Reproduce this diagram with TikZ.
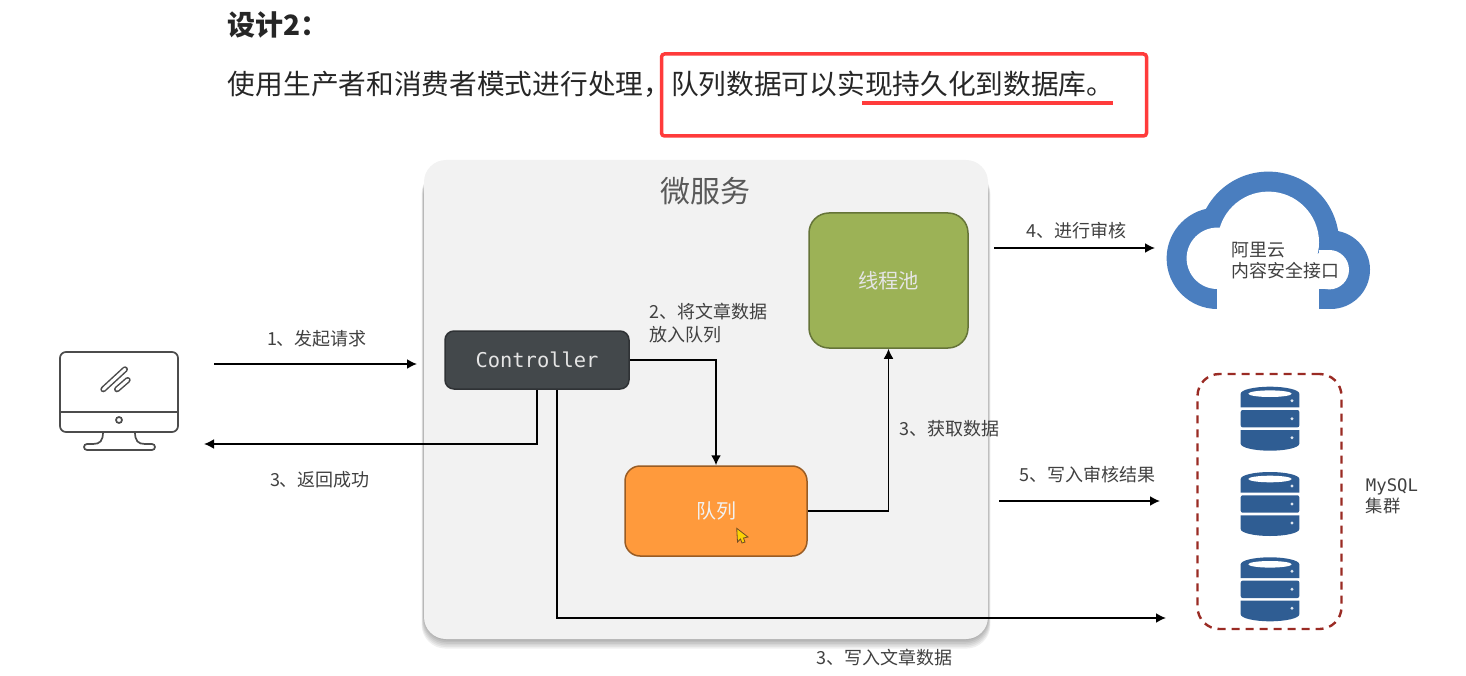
\documentclass[tikz,border=0pt]{standalone}
\usepackage{fontspec}
\setmainfont{Noto Sans CJK SC}
\setmonofont{DejaVu Sans Mono}
\usepackage{tikz}
\usetikzlibrary{arrows.meta, positioning, calc}

\definecolor{cBlue}{HTML}{4A7EBF}
\definecolor{cDb}{HTML}{2F5D93}
\definecolor{cRed}{HTML}{FF3B3B}
\definecolor{cTxt}{HTML}{404040}
\definecolor{cCtrl}{HTML}{43484B}
\definecolor{cPool}{HTML}{9CB256}
\definecolor{cQue}{HTML}{FF9A3C}
\definecolor{cDash}{HTML}{9A2B24}

\tikzset{
  dbstack/.pic = {
    \fill[cDb] (-29.3,20.7) -- (-29.3,7) arc[start angle=180, end angle=0, x radius=29.3pt, y radius=7pt] -- (29.3,20.7) -- cycle;
    \fill[cDb, rounded corners=2pt] (-29.3,23.3) rectangle (29.3,40.7);
    \fill[cDb] (-29.3,43.3) -- (-29.3,57) arc[start angle=180, end angle=360, x radius=29.3pt, y radius=7pt] -- (29.3,43.3) -- cycle;
    \fill[white] (0,7) ellipse[x radius=21.7pt, y radius=3.3pt];
    \fill[white!85!cDb] (22,14) circle (1.6pt) (22,32) circle (1.6pt) (22,51) circle (1.6pt);
  }
}

\begin{document}
\begin{tikzpicture}[
  x=1pt, y=-1pt,
  >={Latex[length=10pt, width=10pt]},
  line width=1.8pt,
  block/.style = {rectangle, rounded corners=#1, inner sep=0pt, line width=1.5pt},
  lbl/.style   = {inner sep=0pt, text=cTxt, font=\fontsize{18}{23}\selectfont, align=left},
]
  \useasboundingbox (0,0) rectangle (1466,676);

  % heading
  \node[anchor=west, inner sep=0pt, text=black!85, font=\fontsize{28}{34}\selectfont\bfseries] (hTitle) at (227,25) {设计2\symbol{"FF1A}};
  \node[anchor=west, inner sep=0pt, text=black!85, font=\fontsize{27.7}{34}\selectfont] (hSub) at (227,84) {使用生产者和消费者模式进行处理\symbol{"FF0C}队列数据可以实现持久化到数据库。};
  \node[draw=cRed, line width=3.5pt, rounded corners=3pt, minimum width=485pt, minimum height=82pt, inner sep=0pt] (hBox) at (904,95) {};
  \coordinate (uA) at (862,103);
  \coordinate (uB) at (1113,103);
  \draw[cRed, line width=3.5pt] (uA) -- (uB);

  % service panel, soft shadow first
  \foreach \i in {1,...,6}
    \fill[black, opacity=.06, rounded corners=24pt] (424-\i*.4,170) rectangle (988+\i*.4,639+\i*1.6);
  \node[block=22pt, fill=black!5, minimum width=564pt, minimum height=479pt] (bSvc) at (706,399.5) {};
  \node[inner sep=0pt, text=black!65, font=\fontsize{30}{36}\selectfont] (tSvc) at (705,191) {微服务};

  \node[block=9pt, draw=cCtrl!70!black, fill=cCtrl, minimum width=184pt, minimum height=58pt, text=white!90!black, font=\ttfamily\fontsize{20.4}{24}\selectfont] (bCtrl) at (537,360) {\raisebox{-2pt}{Controller}};
  \node[block=20pt, draw=cPool!65!black, fill=cPool, minimum width=159pt, minimum height=135pt, text=white!90!black, font=\fontsize{20.3}{24}\selectfont] (bPool) at (888.5,280.5) {线程池};
  \node[block=15pt, draw=cQue!60!black, fill=cQue, minimum width=182pt, minimum height=90pt, text=white!95!black, font=\fontsize{20}{24}\selectfont] (bQue) at (716,511) {队列};

  % mouse pointer
  \fill[yellow!70!orange, draw=brown!60!black, line width=.8pt] (736.7,528.3) -- (748,537) -- (743.5,538) -- (745,542) -- (742,543) -- (740.5,539) -- (737.5,542) -- cycle;

  % free ends of the connectors
  \coordinate (pc)  at (214,364);
  \coordinate (pca) at (417,364);
  \coordinate (prt) at (204,444);
  \coordinate (pAi) at (994,248);
  \coordinate (pAj) at (1155,248);
  \coordinate (pRa) at (999,501);
  \coordinate (pRb) at (1160,501);
  \coordinate (pWr) at (1166,618);
  \coordinate (pQt) at (bQue.north);
  \coordinate (pPl) at (bPool.south);

  \draw[->] (pc) -- (pca);
  \draw[->] (bCtrl.south) |- (prt);
  \draw[->] (bCtrl.east) -| (pQt);
  \draw[->] (bQue.east) -| (pPl);
  \draw[->] (pAi) -- (pAj);
  \draw[->] (pRa) -- (pRb);
  \draw[->] ($(bCtrl.south)+(20,0)$) |- (pWr);

  \node[lbl] (l1)  at (317,339) {1、发起请求};
  \node[lbl] (l3a) at (320,480) {3、返回成功};
  \node[lbl, anchor=north west] (l2)  at (649,302) {2、将文章数据\\放入队列};
  \node[lbl] (l3b) at (949,429) {3、获取数据};
  \node[lbl] (l4)  at (1076,231) {4、进行审核};
  \node[lbl] (l5)  at (1087,475) {5、写入审核结果};
  \node[lbl] (l3c) at (884,658) {3、写入文章数据};

  % cloud
  \fill[cBlue] (1217.3,258.3) circle (50.7pt);
  \fill[cBlue] (1268.3,242.3) circle (70.7pt);
  \fill[cBlue] (1330.7,269.7) circle (39.3pt);
  \fill[cBlue] (1319,270) rectangle (1331,309);
  \fill[white] (1217.3,258.3) circle (30.7pt);
  \fill[white] (1268.3,242.3) circle (50.7pt);
  \fill[white] (1329.3,269.7) circle (19.7pt);
  \fill[white] (1319,250) rectangle (1329.3,289.3);
  \fill[white] (1217.3,260) rectangle (1319,316);
  \node[lbl, anchor=north west, font=\fontsize{17.9}{21}\selectfont] (tCloud) at (1231,241) {阿里云\\内容安全接口};

  % computer
  \begin{scope}[draw=black!70, line width=1.7pt]
    \draw[rounded corners=6pt] (60,352) rectangle (178,432);
    \draw (60,412) -- (178,412);
    \draw (119,420) circle (3pt);
    \draw[rounded corners=3pt] (103,432) .. controls (103,441) and (100,444) .. (90,444) -- (84,444) -- (84,450) -- (155,450) -- (155,444) -- (148,444) .. controls (138,444) and (135,441) .. (135,432);
    \draw[line width=6pt, line cap=round] (103.3,389.3) -- (125,369.3);
    \draw[line width=6pt, line cap=round] (117,389.3) -- (127.7,380);
    \draw[white, line width=3pt, line cap=round] (103.3,389.3) -- (125,369.3);
    \draw[white, line width=3pt, line cap=round] (117,389.3) -- (127.7,380);
  \end{scope}

  % MySQL group
  \node[draw=cDash, dash pattern=on 8pt off 6pt, line width=2.4pt, rounded corners=22pt, minimum width=144pt, minimum height=255pt, inner sep=0pt] (bDb) at (1269.5,501.5) {};
  \pic (db1) at (1270,386.7) {dbstack};
  \pic (db2) at (1270,472) {dbstack};
  \pic (db3) at (1270,557.3) {dbstack};
  \node[lbl, anchor=north west, font=\ttfamily\fontsize{17.3}{21}\selectfont] (tDb) at (1365,478) {MySQL\\{\rmfamily 集群}};
\end{tikzpicture}
\end{document}
